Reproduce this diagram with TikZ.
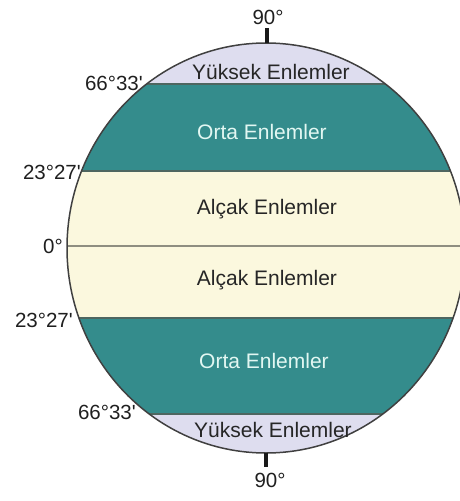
\documentclass[tikz,border=0pt]{standalone}
\usepackage{fontspec}
\setmainfont{Liberation Sans}[Ligatures=TeXOff]
\definecolor{teal1}{HTML}{348C8C}
\definecolor{cream}{HTML}{FBF8DE}
\definecolor{lav}{HTML}{DEDDEF}
\definecolor{rim}{HTML}{404040}
\definecolor{divl}{HTML}{4E6660}
\definecolor{eqline}{HTML}{8E8E80}
\definecolor{ortatxt}{HTML}{E2F7F2}
\begin{document}
\begin{tikzpicture}[x=1pt,y=-1pt,
  band/.style={font=\fontsize{21}{23}\selectfont, inner sep=0pt, anchor=center},
  deg/.style={font=\fontsize{20.5}{23}\selectfont, text=black!88, inner sep=0pt},
  tick/.style={line width=3.2pt, black!90}]
\useasboundingbox (0,0) rectangle (460,501);
\clip (0,0) rectangle (460,501);
% globe bands
\begin{scope}
  \clip (266,248) ellipse [x radius=199, y radius=205];
  \fill[lav]   (40,30)  rectangle (480,84);
  \fill[teal1] (40,84)  rectangle (480,171);
  \fill[cream] (40,171) rectangle (480,318);
  \fill[teal1] (40,318) rectangle (480,414);
  \fill[lav]   (40,414) rectangle (480,470);
  \draw[divl, line width=1.4pt] (40,84) -- (480,84);
  \draw[divl, line width=1.4pt] (40,171) -- (480,171);
  \draw[eqline, line width=1.8pt] (40,246) -- (480,246);
  \draw[divl, line width=1.4pt] (40,318) -- (480,318);
  \draw[divl, line width=1.4pt] (40,414) -- (480,414);
\end{scope}
\draw[rim, line width=1.5pt] (266,248) ellipse [x radius=199, y radius=205];
% poles
\coordinate (np) at (267,43);
\coordinate (npt) at (267,28);
\coordinate (sp) at (266,453);
\coordinate (spt) at (266,467);
\draw[tick] (np) -- (npt);
\draw[tick] (sp) -- (spt);
% band labels
\node[band, text=black!85] (y1) at (271,72) {Yüksek Enlemler};
\node[band, text=ortatxt] (o1) at (262,132) {Orta Enlemler};
\node[band, text=black!85] (a1) at (267,209) {Alçak Enlemler};
\node[band, text=black!85] (a2) at (267,280) {Alçak Enlemler};
\node[band, text=ortatxt] (o2) at (264,361) {Orta Enlemler};
\node[band, text=black!85] (y2) at (273,430) {Yüksek Enlemler};
% degree labels
\node[deg] (n90) at (268,17) {90°};
\node[deg, anchor=east] (d1) at (143,83) {66°33'};
\node[deg, anchor=east] (d2) at (81,172) {23°27'};
\node[deg, anchor=east] (d0) at (63,246) {0°};
\node[deg, anchor=east] (d3) at (73,320) {23°27'};
\node[deg, anchor=east] (d4) at (136,412) {66°33'};
\node[deg] (s90) at (270,480) {90°};
\end{tikzpicture}
\end{document}
